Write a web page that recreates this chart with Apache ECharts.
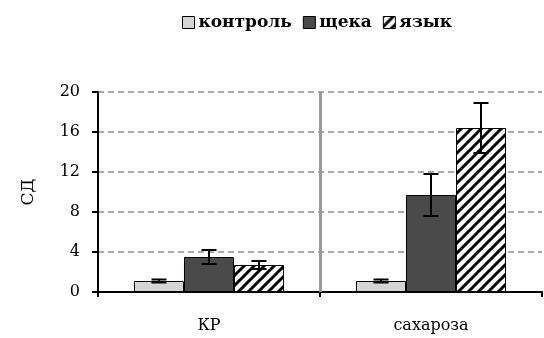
<!DOCTYPE html>
<html><head><meta charset="utf-8">
<script src="https://cdn.jsdelivr.net/npm/echarts@6/dist/echarts.min.js"></script>
<style>html,body{margin:0;padding:0;background:#fff}#c{width:544px;height:338px}</style>
</head><body><div id="c"></div>
<script>
var categories = ['КР', 'сахароза'];
var seriesNames = ['контроль', 'щека', 'язык'];
var kontrol = [1.1, 1.1];
var kontrolErr = [0.15, 0.15];
var scheka = [3.5, 9.7];
var schekaErr = [0.7, 2.1];
var yazyk = [2.7, 16.4];
var yazykErr = [0.4, 2.5];
var yTicks = [0, 4, 8, 12, 16, 20];

var FONT = '"DejaVu Serif", "Liberation Serif", serif';

function hatch() {
  var c = document.createElement('canvas');
  c.width = 10; c.height = 10;
  var g = c.getContext('2d');
  g.fillStyle = '#fff'; g.fillRect(0, 0, 10, 10);
  g.strokeStyle = '#000'; g.lineWidth = 3;
  g.beginPath();
  g.moveTo(-2, 12); g.lineTo(12, -2);
  g.moveTo(-7, 7); g.lineTo(7, -7);
  g.moveTo(3, 17); g.lineTo(17, 3);
  g.stroke();
  return {image: c, repeat: 'repeat'};
}
var hatchPattern = hatch();

var colors = ['#d4d4d4', '#4a4a4a', hatchPattern];
var values = [kontrol, scheka, yazyk];
var errs = [kontrolErr, schekaErr, yazykErr];

var chart = echarts.init(document.getElementById('c'));
var groupFrac = 150 / 222;

var series = [];
seriesNames.forEach(function (n, i) {
  series.push({
    name: n, type: 'bar', data: values[i], barGap: '0%', barCategoryGap: '32.4%',
    itemStyle: {color: colors[i], borderColor: '#000', borderWidth: 1},
    emphasis: {disabled: true}
  });
});
seriesNames.forEach(function (n, i) {
  series.push({
    type: 'custom', silent: true, z: 5,
    data: categories.map(function (c, k) { return [k, values[i][k] - errs[i][k], values[i][k] + errs[i][k]]; }),
    encode: {x: 0, y: [1, 2]},
    renderItem: function (params, api) {
      var x = api.value(0);
      var band = api.size([1, 0])[0];
      var bw = band * groupFrac / 3;
      var lo = api.coord([x, api.value(1)]);
      var hi = api.coord([x, api.value(2)]);
      var cx = lo[0] + (i - 1) * bw;
      var hw = 7.5;
      var st = {stroke: '#000', lineWidth: 2};
      return {type: 'group', children: [
        {type: 'line', shape: {x1: cx, y1: lo[1], x2: cx, y2: hi[1]}, style: st},
        {type: 'line', shape: {x1: cx - hw, y1: lo[1], x2: cx + hw, y2: lo[1]}, style: st},
        {type: 'line', shape: {x1: cx - hw, y1: hi[1], x2: cx + hw, y2: hi[1]}, style: st}
      ]};
    }
  });
});
series.push({
  type: 'line', xAxisIndex: 1, data: [], silent: true,
  markLine: {symbol: 'none', silent: true, label: {show: false},
    lineStyle: {color: '#999', width: 3, type: 'solid'},
    data: [{xAxis: 1}]}
});

chart.setOption({
  animation: false,
  legend: {
    data: seriesNames.map(function (n, i) { return {name: n, itemStyle: {color: colors[i], borderColor: '#000', borderWidth: 1}}; }),
    top: 14, left: 182, padding: 0, itemWidth: 12, itemHeight: 12, itemGap: 11,
    icon: 'rect',
    textStyle: {fontFamily: FONT, fontSize: 17, fontWeight: 'bold', color: '#000', padding: [0, 0, 0, -1]}
  },
  grid: {left: 98, right: 2, top: 92, bottom: 46},
  xAxis: [{
    type: 'category', data: categories,
    axisLine: {lineStyle: {color: '#000', width: 2}},
    axisTick: {show: true, length: 5, lineStyle: {color: '#000', width: 2}},
    axisLabel: {fontFamily: FONT, fontSize: 16, color: '#000', margin: 26}
  }, {
    type: 'value', min: 0, max: 2, show: false
  }],
  yAxis: {
    type: 'value', min: 0, max: 20, interval: 4,
    name: 'СД', nameLocation: 'middle', nameGap: 61, nameRotate: 90,
    nameTextStyle: {fontFamily: FONT, fontSize: 17, color: '#000'},
    axisLine: {show: true, lineStyle: {color: '#000', width: 2}},
    axisTick: {show: true, inside: false, length: 6, lineStyle: {color: '#000', width: 2}},
    axisLabel: {fontFamily: FONT, fontSize: 16, color: '#000', margin: 18,
      formatter: function (v) { return yTicks.indexOf(v) >= 0 ? String(v) : ''; }},
    splitLine: {show: true, lineStyle: {color: '#aaa', type: [6, 4], width: 2}}
  },
  series: series
});
</script></body></html>
